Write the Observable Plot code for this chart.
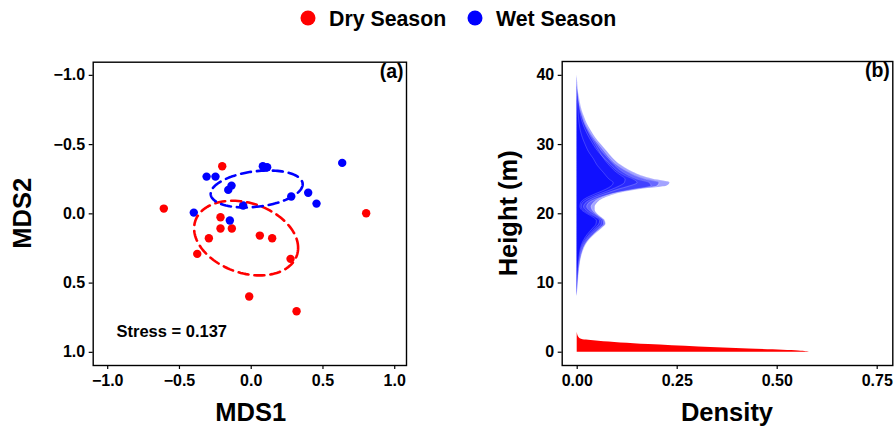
<!DOCTYPE html>
<html>
<head>
<meta charset="utf-8">
<script src="https://cdn.jsdelivr.net/npm/d3@7"></script>
<script src="https://cdn.jsdelivr.net/npm/@observablehq/plot@0.6"></script>
<style>
  html, body { margin: 0; padding: 0; background: #fff; }
  #wrap { position: relative; width: 895px; height: 429px; font-family: "Liberation Sans", Arial, Helvetica, sans-serif; }
  #wrap > svg, #wrap > figure { position: absolute; top: 0; margin: 0; }
</style>
</head>
<body>
<div id="wrap"></div>
<script>
// ---------- Data ----------
const seasons = ["Dry Season", "Wet Season"];
const seasonColors = ["#FF0000", "#0000FF"];

// NMDS scores (panel a)
const dryMDS1 = [-0.202, -0.609, 0.801, -0.214, -0.214, -0.135, -0.295, 0.060, 0.146, -0.376, 0.274, -0.014, 0.316];
const dryMDS2 = [-0.344, -0.038, -0.004, 0.025, 0.106, 0.106, 0.176, 0.157, 0.176, 0.289, 0.325, 0.597, 0.703];
const wetMDS1 = [0.081, 0.111, 0.634, -0.311, -0.249, -0.137, -0.160, 0.397, 0.279, 0.455, -0.056, -0.400, -0.149];
const wetMDS2 = [-0.344, -0.336, -0.368, -0.269, -0.269, -0.204, -0.173, -0.152, -0.125, -0.074, -0.060, -0.009, 0.048];
const stressLabel = "Stress = 0.137";

const xTicksA = [-1, -0.5, 0, 0.5, 1];
const yTicksA = [-1, -0.5, 0, 0.5, 1];

// Height density (panel b)
const wetHeights = [8, 10, 12, 14, 15, 16, 17, 18, 18.5, 19, 19.5, 20, 20.5, 21, 21.5, 22, 22.5, 23, 23.5, 24, 24.5, 25, 25.5, 26, 27, 28, 29, 30, 31, 32, 33, 34, 35, 36, 37, 38, 39, 40];
const wetDensityA = [0, 0.003, 0.006, 0.012, 0.018, 0.028, 0.045, 0.065, 0.072, 0.070, 0.060, 0.050, 0.045, 0.045, 0.050, 0.060, 0.080, 0.110, 0.160, 0.225, 0.232, 0.190, 0.160, 0.140, 0.110, 0.090, 0.075, 0.060, 0.046, 0.035, 0.025, 0.018, 0.012, 0.008, 0.005, 0.002, 0.001, 0];
const wetDensityB = [0, 0.001, 0.002, 0.005, 0.008, 0.014, 0.025, 0.040, 0.047, 0.048, 0.040, 0.025, 0.012, 0.007, 0.008, 0.015, 0.030, 0.050, 0.070, 0.085, 0.090, 0.080, 0.072, 0.065, 0.050, 0.040, 0.028, 0.020, 0.013, 0.008, 0.005, 0.003, 0.002, 0.001, 0, 0, 0, 0];
const wetDensityC = [0, 0.002, 0.004, 0.008, 0.012, 0.020, 0.034, 0.052, 0.060, 0.060, 0.050, 0.035, 0.022, 0.016, 0.020, 0.032, 0.050, 0.075, 0.100, 0.130, 0.150, 0.140, 0.120, 0.105, 0.085, 0.068, 0.052, 0.040, 0.030, 0.021, 0.014, 0.009, 0.006, 0.004, 0.002, 0.001, 0, 0];
const wetDensityD = [0, 0.002, 0.005, 0.010, 0.015, 0.024, 0.040, 0.058, 0.066, 0.065, 0.055, 0.042, 0.030, 0.024, 0.028, 0.042, 0.065, 0.095, 0.140, 0.185, 0.180, 0.150, 0.130, 0.115, 0.094, 0.078, 0.062, 0.050, 0.038, 0.028, 0.019, 0.013, 0.008, 0.005, 0.003, 0.001, 0, 0];
const wetDensityE = [0, 0.001, 0.003, 0.007, 0.010, 0.017, 0.030, 0.046, 0.054, 0.056, 0.047, 0.030, 0.016, 0.010, 0.012, 0.022, 0.040, 0.062, 0.085, 0.105, 0.118, 0.120, 0.110, 0.098, 0.080, 0.066, 0.055, 0.045, 0.035, 0.026, 0.018, 0.012, 0.008, 0.005, 0.003, 0.002, 0.001, 0];
const wetDensityF = [0, 0.002, 0.005, 0.011, 0.016, 0.026, 0.042, 0.062, 0.070, 0.068, 0.058, 0.046, 0.038, 0.035, 0.040, 0.050, 0.070, 0.100, 0.150, 0.200, 0.205, 0.170, 0.145, 0.128, 0.100, 0.082, 0.068, 0.054, 0.041, 0.030, 0.021, 0.015, 0.010, 0.006, 0.004, 0.002, 0.001, 0];
const wetDensities = [wetDensityA, wetDensityB, wetDensityC, wetDensityD, wetDensityE, wetDensityF];

const dryHeights = [0, 0.19, 0.48, 0.77, 1.11, 1.59, 1.83, 2.17, 2.89];
const dryDensity = [0.583, 0.554, 0.429, 0.304, 0.179, 0.054, 0.0125, 0.004, 0];

const xTicksB = [0, 0.25, 0.5, 0.75];
const yTicksB = [0, 10, 20, 30, 40];

// ---------- Derived tables ----------
const points = [
  ...dryMDS1.map((x, i) => ({x, y: dryMDS2[i], season: seasons[0]})),
  ...wetMDS1.map((x, i) => ({x, y: wetMDS2[i], season: seasons[1]}))
];

// 1-SD covariance ellipse around each group's centroid
function sdEllipse(xs, ys, season) {
  const n = xs.length;
  const mx = d3.mean(xs), my = d3.mean(ys);
  let sxx = 0, syy = 0, sxy = 0;
  for (let i = 0; i < n; i++) {
    sxx += (xs[i] - mx) ** 2; syy += (ys[i] - my) ** 2; sxy += (xs[i] - mx) * (ys[i] - my);
  }
  sxx /= n - 1; syy /= n - 1; sxy /= n - 1;
  const l11 = Math.sqrt(sxx), l21 = sxy / l11, l22 = Math.sqrt(Math.max(syy - l21 * l21, 0));
  return d3.range(0, 121).map(k => {
    const t = (k / 120) * 2 * Math.PI;
    return {x: mx + l11 * Math.cos(t), y: my + l21 * Math.cos(t) + l22 * Math.sin(t), season};
  });
}
const ellipses = [...sdEllipse(dryMDS1, dryMDS2, seasons[0]), ...sdEllipse(wetMDS1, wetMDS2, seasons[1])];

const wetCurves = wetDensities.flatMap((arr, c) => wetHeights.map((h, i) => ({h, d: arr[i], curve: c})));
const dryCurve = dryHeights.map((h, i) => ({h, d: dryDensity[i]}));

const FONT = '"Liberation Sans", Arial, Helvetica, sans-serif';
const colorScale = {domain: seasons, range: seasonColors};
const styleBase = {fontFamily: FONT, fontWeight: "bold", color: "black", background: "transparent", overflow: "visible"};

// ---------- Panel (a) ----------
const plotA = Plot.plot({
  width: 447, height: 429,
  marginLeft: 92.7, marginRight: 41, marginTop: 61.7, marginBottom: 64,
  style: styleBase,
  x: {domain: [-1.101, 1.082]},
  y: {domain: [1.095, -1.095]},
  color: colorScale,
  marks: [
    Plot.frame({stroke: "black", strokeWidth: 1.4}),
    Plot.axisX({ticks: xTicksA, tickFormat: d3.format(".1f"), tickSize: 4, tickPadding: 5, fontSize: 16, label: null, strokeWidth: 1.2}),
    Plot.axisY({ticks: yTicksA, tickFormat: d3.format(".1f"), tickSize: 4, tickPadding: 4, fontSize: 16, label: null, strokeWidth: 1.2}),
    Plot.dot(points, {x: "x", y: "y", fill: "season", r: 4.2, stroke: "none"}),
    Plot.line(ellipses, {x: "x", y: "y", z: "season", stroke: "season", strokeWidth: 2.6, strokeDasharray: "10,6", curve: "linear"}),
    Plot.text(["(a)"], {frameAnchor: "top-right", dx: -3, dy: 2, fontSize: 19.5, fontWeight: "bold", fill: "black"}),
    Plot.text([stressLabel], {frameAnchor: "bottom-left", textAnchor: "start", lineAnchor: "middle", dx: 23.3, dy: -33.3, fontSize: 16.5, fontWeight: "bold", fill: "black"})
  ]
});
plotA.style.left = "0px";

// ---------- Panel (b) ----------
const plotB = Plot.plot({
  width: 448, height: 429,
  marginLeft: 114.7, marginRight: 2.7, marginTop: 61, marginBottom: 64,
  style: styleBase,
  x: {domain: [-0.0375, 0.789]},
  y: {domain: [-1.92, 42]},
  marks: [
    Plot.areaX(wetCurves, {x1: 0, x2: "d", y: "h", z: "curve", fill: "#0000FF", fillOpacity: 0.36, curve: "monotone-y"}),
    Plot.lineX(wetCurves, {x: "d", y: "h", z: "curve", stroke: "white", strokeOpacity: 0.22, strokeWidth: 0.8, curve: "monotone-y"}),
    Plot.areaX(dryCurve, {x1: 0, x2: "d", y: "h", fill: "#FF0000", curve: "monotone-y"}),
    Plot.frame({stroke: "black", strokeWidth: 1.4}),
    Plot.axisX({ticks: xTicksB, tickFormat: d3.format(".2f"), tickSize: 4, tickPadding: 5, fontSize: 16, label: null, strokeWidth: 1.2}),
    Plot.axisY({ticks: yTicksB, tickFormat: d3.format("d"), tickSize: 4, tickPadding: 4, fontSize: 16, label: null, strokeWidth: 1.2}),
    Plot.text(["(b)"], {frameAnchor: "top-right", dx: -3, dy: 2, fontSize: 19.5, fontWeight: "bold", fill: "black"})
  ]
});
plotB.style.left = "447px";

const wrap = document.getElementById("wrap");
wrap.appendChild(plotA);
wrap.appendChild(plotB);

// ---------- Titles & legend overlay ----------
const ov = d3.select(wrap).append("svg")
  .attr("width", 895).attr("height", 429)
  .style("position", "absolute").style("left", "0px").style("top", "0px")
  .style("pointer-events", "none")
  .style("font-family", FONT).style("font-weight", "bold");

ov.append("text").attr("x", 250.7).attr("y", 421).attr("text-anchor", "middle").attr("font-size", 25.5).text("MDS1");
ov.append("text").attr("transform", "translate(31,213.3) rotate(-90)").attr("text-anchor", "middle").attr("font-size", 25.5).text("MDS2");
ov.append("text").attr("x", 727).attr("y", 421).attr("text-anchor", "middle").attr("font-size", 25.5).text("Density");
ov.append("text").attr("transform", "translate(517,213.3) rotate(-90)").attr("text-anchor", "middle").attr("font-size", 25.5).text("Height (m)");

const legendX = [308, 475];
const legendTextX = [329, 496];
seasons.forEach((s, i) => {
  ov.append("circle").attr("cx", legendX[i]).attr("cy", 18).attr("r", 7.5).attr("fill", seasonColors[i]);
  ov.append("text").attr("x", legendTextX[i]).attr("y", 25.5).attr("font-size", 21.3).attr("fill", "black").text(s);
});
</script>
</body>
</html>
